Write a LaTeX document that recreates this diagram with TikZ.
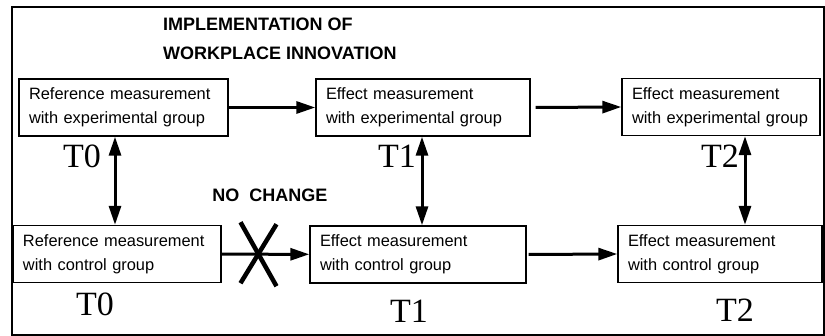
\documentclass[tikz,border=0pt]{standalone}
\usepackage{fontspec}
\setmainfont{Liberation Sans}
\newfontfamily\tfont{Liberation Serif}
\usepackage{tikz}
\usetikzlibrary{arrows.meta, positioning, calc}
\tikzset{
  measbox/.style = {rectangle, draw, line width=1.4pt,
                    align=left, text width=#1,
                    inner xsep=10pt, minimum height=57pt,
                    font=\fontsize{16.4}{24}\selectfont},
  heading/.style = {font=\fontsize{18}{29}\selectfont\bfseries,
                    align=left, inner sep=0pt},
  tlabel/.style  = {font=\tfont\fontsize{34}{34}\selectfont, inner sep=0pt},
  arr/.style     = {-{Triangle[length=19pt, width=12pt]}, line width=3pt},
  dblarr/.style  = {{Triangle[length=19pt, width=12pt]}-{Triangle[length=19pt, width=12pt]},
                    line width=3pt},
  crossline/.style = {line width=4.5pt},
}
\begin{document}
\begin{tikzpicture}[x=1pt, y=-1pt]
\useasboundingbox (0,0) rectangle (825,336);

% ── Frame ────────────────────────────────────────────────
\draw[line width=2.6pt] (12,7) rectangle (824,335);

% ── Heading ──────────────────────────────────────────────
\node[heading, anchor=west] (title) at (163,38.5)
      {IMPLEMENTATION OF\\WORKPLACE INNOVATION};

% ── Experimental group ───────────────────────────────────
\node[measbox=189pt] (refexp)  at (123.5,107.5)
      {Reference measurement\\with experimental group};
\node[measbox=194pt] (effexpa) at (423,107.5)
      {Effect measurement\\with experimental group};
\node[measbox=178pt] (effexpb) at (721,107)
      {Effect measurement\\with experimental group};

% ── Control group ────────────────────────────────────────
\node[measbox=188pt] (refctl)  at (117,254)
      {Reference measurement\\with control group};
\node[measbox=196pt] (effctla) at (418,254.5)
      {Effect measurement\\with control group};
\node[measbox=184pt] (effctlb) at (720,254)
      {Effect measurement\\with control group};

% ── Time labels ──────────────────────────────────────────
\node[tlabel] (tzeroexp) at (82,156)  {T0};
\node[tlabel] (toneexp)  at (397,156) {T1};
\node[tlabel] (ttwoexp)  at (720,156) {T2};
\node[tlabel] (tzeroctl) at (95,304)  {T0};
\node[tlabel] (tonectl)  at (409,311) {T1};
\node[tlabel] (ttwoctl)  at (735,310) {T2};

\node[heading] (nochange) at (270,195) {NO\ \ CHANGE};

% ── Arrows: over time ────────────────────────────────────
\draw[arr] (refexp) -- (effexpa);
\draw[arr] ([xshift=5pt]effexpa.east) -- (effexpb.west);
\draw[arr] (refctl) -- (effctla);
\draw[arr] ([xshift=2pt]effctla.east) -- (effctlb.west);

% ── Arrows: between groups ───────────────────────────────
\draw[dblarr] ([xshift=-8.5pt]refexp.south) -- ([xshift=-8.5pt]refexp.south |- refctl.north);
\draw[dblarr] ([xshift=-1pt]effexpa.south) -- ([xshift=-1pt]effexpa.south |- effctla.north);
\draw[dblarr] ([xshift=24pt]effexpb.south) -- ([xshift=24pt]effexpb.south |- effctlb.north);

% ── Cross over first control arrow ───────────────────────
\coordinate (cross) at ($(refctl.east)!0.42!(effctla.west)$);
\draw[crossline] ([shift={(-18,-32)}]cross) -- ([shift={(18,32)}]cross);
\draw[crossline] ([shift={(18,-30)}]cross) -- ([shift={(-18,29)}]cross);

\end{tikzpicture}
\end{document}
